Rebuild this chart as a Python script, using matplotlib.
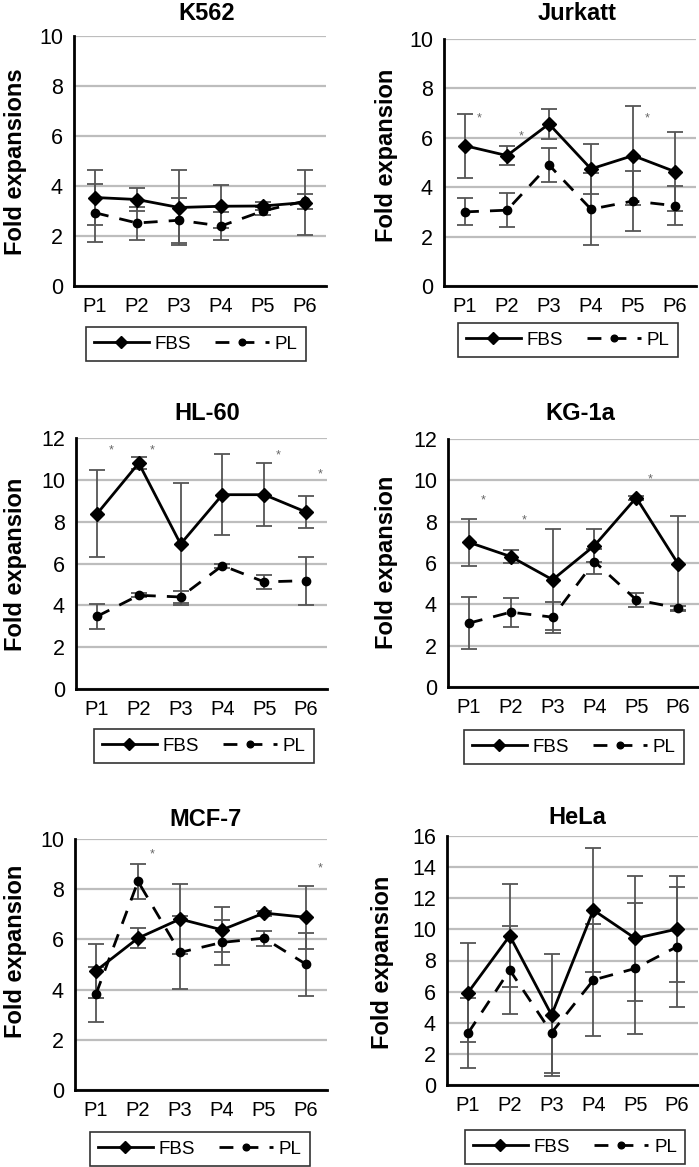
import numpy as np
import matplotlib
matplotlib.use('Agg')
import matplotlib.pyplot as plt

plt.rcParams['font.family'] = ['Liberation Sans', 'DejaVu Sans']

# data
passages = ['P1', 'P2', 'P3', 'P4', 'P5', 'P6']

k562_fbs = [3.54, 3.46, 3.14, 3.19, 3.2, 3.34]
k562_fbs_err = [1.1, 0.45, 1.5, 0.87, 0.15, 1.3]
k562_pl = [2.93, 2.52, 2.63, 2.4, 3.0, 3.4]
k562_pl_err = [1.17, 0.66, 0.9, 0.55, 0.15, 0.3]
k562_stars = []

jurkatt_fbs = [5.68, 5.28, 6.56, 4.74, 5.28, 4.63]
jurkatt_fbs_err = [1.3, 0.4, 0.6, 1.0, 2.0, 1.6]
jurkatt_pl = [3.0, 3.07, 4.9, 3.11, 3.44, 3.25]
jurkatt_pl_err = [0.55, 0.7, 0.7, 1.45, 1.2, 0.8]
jurkatt_stars = [(0, 6.8), (1, 6.05), (4, 6.8)]

hl60_fbs = [8.37, 10.8, 6.93, 9.29, 9.29, 8.46]
hl60_fbs_err = [2.08, 0.3, 2.9, 1.93, 1.5, 0.75]
hl60_pl = [3.47, 4.48, 4.4, 5.9, 5.12, 5.18]
hl60_pl_err = [0.6, 0.1, 0.3, 0.1, 0.35, 1.15]
hl60_stars = [(0, 11.4), (1, 11.4), (4, 11.15), (5, 10.25)]

kg1a_fbs = [7.0, 6.31, 5.19, 6.84, 9.16, 5.96]
kg1a_fbs_err = [1.13, 0.3, 2.44, 0.8, 0.1, 2.3]
kg1a_pl = [3.09, 3.62, 3.38, 6.07, 4.22, 3.82]
kg1a_pl_err = [1.25, 0.7, 0.75, 0.6, 0.35, 0.1]
kg1a_stars = [(0, 9.05), (1, 8.08), (4, 10.05)]

mcf7_fbs = [4.75, 6.05, 6.81, 6.38, 7.05, 6.88]
mcf7_fbs_err = [1.07, 0.4, 1.4, 0.9, 0.1, 1.25]
mcf7_pl = [3.82, 8.31, 5.48, 5.88, 6.05, 5.01]
mcf7_pl_err = [1.1, 0.7, 1.45, 0.9, 0.3, 1.25]
mcf7_stars = [(1, 9.4), (5, 8.84)]

hela_fbs = [5.93, 9.59, 4.5, 11.24, 9.42, 10.02]
hela_fbs_err = [3.17, 3.3, 3.9, 3.96, 4.0, 3.4]
hela_pl = [3.32, 7.39, 3.36, 6.75, 7.49, 8.89]
hela_pl_err = [2.25, 2.8, 2.6, 3.6, 4.2, 3.86]
hela_stars = []

W, H = 699, 1167
fig = plt.figure(figsize=(W / 100, H / 100), dpi=100)


def px_axes(left, right, top, bottom):
    return fig.add_axes([left / W, 1 - bottom / H, (right - left) / W, (bottom - top) / H])


def panel(box, title, title_xy, ylabel, ylabel_xy, legend_xy, ymax,
          fbs, fbs_err, pl, pl_err, stars):
    ax = px_axes(*box)
    x = np.arange(len(passages))
    ax.errorbar(x, fbs, yerr=fbs_err, fmt='none', ecolor='#555555',
                elinewidth=1.3, capsize=6, capthick=1.3, zorder=2)
    ax.errorbar(x, pl, yerr=pl_err, fmt='none', ecolor='#555555',
                elinewidth=1.3, capsize=6, capthick=1.3, zorder=2)
    ax.plot(x, fbs, color='black', lw=2, marker='D', ms=7.5, label='FBS', zorder=4)
    ax.plot(x, pl, color='black', lw=2, ls=(0, (5, 4)), marker='o', ms=6,
            label='PL', zorder=3)
    for i, yv in stars:
        ax.text(i + 0.33, yv, '*', fontsize=9, color='#666666', ha='center', va='center')
    ax.set_xlim(-0.5, 5.5)
    ax.set_ylim(0, ymax)
    ax.set_yticks(np.arange(0, ymax + 1, 2))
    ax.set_xticks(x)
    ax.set_xticklabels(passages)
    ax.tick_params(length=0, pad=8)
    ax.tick_params(axis='y', labelsize=15.5)
    ax.tick_params(axis='x', labelsize=14.5)
    ax.yaxis.grid(True, color='#bdbdbd', lw=1.6)
    ax.set_axisbelow(True)
    for s in ['top', 'right']:
        ax.spines[s].set_visible(False)
    for s in ['left', 'bottom']:
        ax.spines[s].set_linewidth(2)
    fig.text(title_xy[0] / W, 1 - title_xy[1] / H, title, fontsize=17,
             fontweight='bold', ha='center', va='center')
    fig.text(ylabel_xy[0] / W, 1 - ylabel_xy[1] / H, ylabel, fontsize=17,
             fontweight='bold', ha='center', va='center', rotation=90)
    leg = ax.legend(loc='center', bbox_to_anchor=(legend_xy[0] / W, 1 - legend_xy[1] / H),
                    bbox_transform=fig.transFigure, ncol=2, frameon=True, fancybox=False,
                    edgecolor='black', fontsize=13.5, handlelength=2.9, markerscale=0.8,
                    handletextpad=0.3, columnspacing=1.3, borderpad=0.45,
                    borderaxespad=0)
    leg.get_frame().set_linewidth(1.2)
    return ax


panel((74, 326, 36, 286), 'K562', (207, 13), 'Fold expansions', (16, 162), (196, 344), 10,
      k562_fbs, k562_fbs_err, k562_pl, k562_pl_err, k562_stars)
panel((444, 696, 39, 286), 'Jurkatt', (577, 13), 'Fold expansion', (387, 155), (568, 340), 10,
      jurkatt_fbs, jurkatt_fbs_err, jurkatt_pl, jurkatt_pl_err, jurkatt_stars)
panel((76, 327, 438, 689), 'HL-60', (207, 413), 'Fold expansion', (16, 564), (204, 746), 12,
      hl60_fbs, hl60_fbs_err, hl60_pl, hl60_pl_err, hl60_stars)
panel((448, 699, 439, 687), 'KG-1a', (580, 413), 'Fold expansion', (386, 562), (574, 747), 12,
      kg1a_fbs, kg1a_fbs_err, kg1a_pl, kg1a_pl_err, kg1a_stars)
panel((75, 327, 839, 1090), 'MCF-7', (206, 820), 'Fold expansion', (16, 951), (200, 1149), 10,
      mcf7_fbs, mcf7_fbs_err, mcf7_pl, mcf7_pl_err, mcf7_stars)
panel((447, 698, 836, 1085), 'HeLa', (577, 817), 'Fold expansion', (382, 962), (575, 1147), 16,
      hela_fbs, hela_fbs_err, hela_pl, hela_pl_err, hela_stars)

fig.savefig('out.png', dpi=100)
